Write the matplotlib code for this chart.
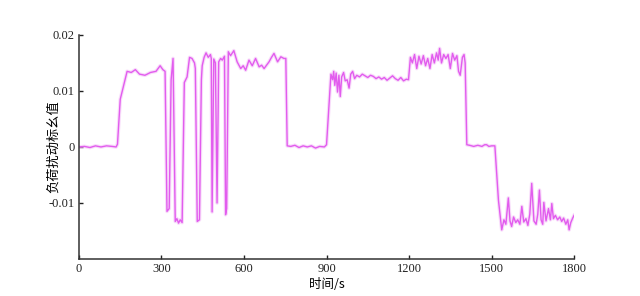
import matplotlib
matplotlib.use('Agg')
import matplotlib.pyplot as plt

# load disturbance (p.u.) vs time
t = [0, 20, 40, 60, 80, 100, 120, 135, 140, 150, 160, 175, 190, 205, 220, 240, 260, 280, 295, 305, 313,
     320, 328, 335, 342, 350, 356, 362, 368, 375, 383, 393, 402, 411, 420, 423, 430, 438, 445, 448, 455,
     462, 470, 478, 481, 484, 490, 496, 502, 508, 515, 521, 529, 533, 537, 543, 551, 563, 575, 588, 597,
     606, 618, 630, 642, 655, 664, 673, 691, 700, 709, 722, 734, 745, 752,
     757, 770, 785, 800, 815, 830, 845, 860, 875, 892, 900, 916, 922, 926, 930, 935, 940, 945, 950, 955,
     962, 968, 975, 982, 988, 995, 1002, 1010, 1020, 1030, 1040, 1050, 1060, 1070, 1080, 1090, 1100,
     1110, 1120, 1130, 1140, 1150, 1160, 1170, 1180, 1190, 1198, 1205, 1212, 1220, 1228, 1236, 1244,
     1252, 1260, 1268, 1276, 1284, 1292, 1300, 1306, 1311, 1318, 1326, 1334, 1342, 1350, 1358, 1366,
     1374, 1380, 1386, 1394, 1400, 1404, 1410, 1420, 1435, 1450, 1465, 1475, 1482, 1490, 1500, 1512,
     1525, 1537, 1545, 1552, 1561, 1567, 1573, 1580, 1588, 1595, 1603, 1610, 1617, 1625, 1632, 1639,
     1646, 1654, 1662, 1668, 1674, 1680, 1686, 1690, 1698, 1707, 1714, 1719, 1725, 1732, 1740, 1748,
     1755, 1762, 1770, 1777, 1782, 1788, 1794, 1800]
load = [0.0000, 0.0001, -0.0001, 0.0002, 0.0000, 0.0002, 0.0001, 0.0000, 0.0005, 0.0085, 0.0105,
        0.0135, 0.0133, 0.0138, 0.0130, 0.0128, 0.0133, 0.0135, 0.0145, 0.0138, 0.0135,
        -0.0115, -0.0110, 0.0120, 0.0158, -0.0133, -0.0128, -0.0136, -0.0130, -0.0135, 0.0115, 0.0125,
        0.0160, 0.0158, 0.0150, 0.0140, -0.0133, -0.0130, 0.0120, 0.0145, 0.0160, 0.0168, 0.0160,
        0.0165, 0.0158, -0.0116, 0.0157, 0.0150, -0.0100, 0.0152, 0.0158, 0.0155, 0.0162, -0.0121,
        -0.0110, 0.0170, 0.0163, 0.0172, 0.0152, 0.0140, 0.0145, 0.0137, 0.0155, 0.0145, 0.0158, 0.0143,
        0.0146, 0.0140, 0.0152, 0.0160, 0.0167, 0.0152, 0.0161, 0.0158, 0.0158,
        0.0002, 0.0001, 0.0003, -0.0001, 0.0002, 0.0000, 0.0002, -0.0002, 0.0001, 0.0000, 0.0004,
        0.0130, 0.0120, 0.0135, 0.0110, 0.0132, 0.0098, 0.0128, 0.0090, 0.0125,
        0.0133, 0.0118, 0.0120, 0.0105, 0.0130, 0.0135, 0.0122, 0.0128, 0.0125, 0.0130, 0.0127, 0.0124,
        0.0128, 0.0126, 0.0122, 0.0125, 0.0121, 0.0124, 0.0119, 0.0123, 0.0127, 0.0122, 0.0119, 0.0124,
        0.0118, 0.0121, 0.0120, 0.0160, 0.0150, 0.0165, 0.0140, 0.0162, 0.0148, 0.0163, 0.0145, 0.0158,
        0.0140, 0.0165, 0.0150, 0.0168, 0.0155, 0.0176, 0.0150, 0.0165, 0.0158, 0.0165, 0.0140, 0.0167,
        0.0155, 0.0163, 0.0135, 0.0128, 0.0160, 0.0165, 0.0150, 0.0004, 0.0003, 0.0001, 0.0003, 0.0001,
        0.0004, 0.0004, 0.0001, 0.0002, 0.0002,
        -0.0095, -0.0148, -0.0130, -0.0138, -0.0091, -0.0132, -0.0142, -0.0125, -0.0135, -0.0130,
        -0.0138, -0.0106, -0.0134, -0.0128, -0.0140, -0.0120, -0.0065, -0.0132, -0.0138, -0.0120,
        -0.0077, -0.0130, -0.0138, -0.0099, -0.0132, -0.0110, -0.0130, -0.0101, -0.0128, -0.0122,
        -0.0130, -0.0125, -0.0133, -0.0127, -0.0138, -0.0130, -0.0148, -0.0135, -0.0128, -0.0122]

xticks = [0, 300, 600, 900, 1200, 1500, 1800]
yticks = [-0.01, 0, 0.01, 0.02]
ytick_labels = ['-0.01', '0', '0.01', '0.02']

plt.rcParams['font.family'] = ['Liberation Serif', 'Noto Sans CJK SC']

fig = plt.figure(figsize=(6.4, 2.96), dpi=100)
ax = fig.add_axes([0.1234, 0.125, 0.7736, 0.757])

# soft halo + core line, like the blurry original
ax.plot(t, load, color='#f4c4f8', linewidth=2.6, alpha=0.6, solid_joinstyle='round')
ax.plot(t, load, color='#e25cee', linewidth=1.0, solid_joinstyle='round')

ax.set_xlim(0, 1800)
ax.set_ylim(-0.02, 0.02)
ax.set_xticks(xticks)
ax.set_xticklabels([str(v) for v in xticks])
ax.set_yticks(yticks)
ax.set_yticklabels(ytick_labels)
ax.tick_params(direction='in', length=3, width=1, labelsize=9, colors='#222222', pad=3)

for s in ['top', 'right']:
    ax.spines[s].set_visible(False)
for s in ['left', 'bottom']:
    ax.spines[s].set_color('#333333')
    ax.spines[s].set_linewidth(1.1)

ax.set_xlabel('时间/s', fontsize=9, family=['Noto Sans CJK SC'], labelpad=2)
ax.set_ylabel('负荷扰动标幺值', fontsize=9.5, family=['Noto Sans CJK SC'])
ax.yaxis.set_label_coords(-0.038, 0.5)

fig.savefig('out.png', dpi=100, facecolor='white')
